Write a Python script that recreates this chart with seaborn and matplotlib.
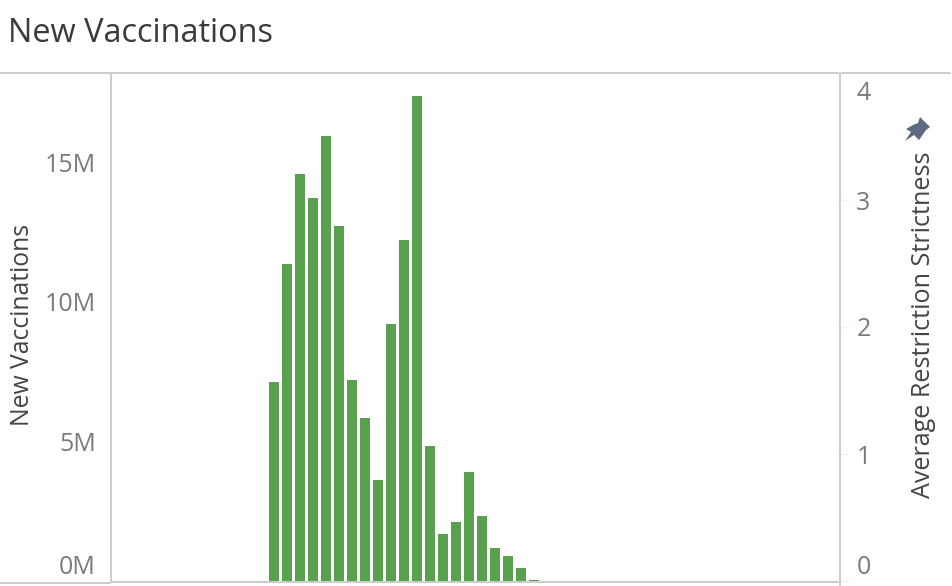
import matplotlib
matplotlib.use('Agg')
import matplotlib.pyplot as plt
import matplotlib.transforms as mtransforms
from matplotlib.lines import Line2D
from matplotlib.patches import Polygon
import seaborn as sns

weeks = [12, 13, 14, 15, 16, 17, 18, 19, 20, 21, 22, 23, 24, 25, 26, 27, 28, 29, 30, 31, 32]
new_vaccinations = [7.12, 11.35, 14.57, 13.71, 15.93, 12.71, 7.20, 5.84, 3.62, 9.20, 12.21,
                    17.36, 4.83, 1.68, 2.11, 3.90, 2.33, 1.18, 0.89, 0.47, 0.04]
left_ticks = [0, 5, 10, 15]
left_labels = ['0M', '5M', '10M', '15M']
right_ticks = [0, 1, 2, 3, 4]

W, H = 952, 586
GREY = '#c8c8c8'
TICK = '#7a7a7a'
DARK = '#444444'

sns.set_theme(style='white')
plt.rcParams['font.family'] = ['Open Sans', 'DejaVu Sans']

fig = plt.figure(figsize=(W / 100, H / 100), dpi=100)
ax = fig.add_axes([111.3 / W, 1 - 581 / H, 727 / W, 508 / H])

sns.barplot(x=weeks, y=new_vaccinations, native_scale=True, color='#59a14f', saturation=1,
            width=0.77, linewidth=0, ax=ax)
ax.set_xlim(-0.5, 55.42)
ax.set_ylim(0, 508 / 27.93)
ax.set_xticks([])
ax.set_yticks(left_ticks)
ax.set_yticklabels(left_labels, fontsize=18, color=TICK)
ax.tick_params(axis='y', length=0, pad=11)
ax.set_xlabel('')
ax.set_ylabel('')

ax2 = ax.twinx()
ax2.set_ylim(0, 4)
ax2.set_yticks(right_ticks)
ax2.set_yticklabels([str(t) for t in right_ticks], fontsize=18, color=TICK)
ax2.tick_params(axis='y', length=8, width=1, color='#f0f0f0', pad=5, direction='out')

for a in (ax, ax2):
    for s in a.spines.values():
        s.set_visible(False)

# 0 and 4 labels get pushed inside the pane like in the original
up = mtransforms.ScaledTranslation(0, 16 / 100, fig.dpi_scale_trans)
down = mtransforms.ScaledTranslation(0, -17 / 100, fig.dpi_scale_trans)
lab = ax.get_yticklabels()[0]
lab.set_transform(lab.get_transform() + up)
lab = ax2.get_yticklabels()[0]
lab.set_transform(lab.get_transform() + up)
lab = ax2.get_yticklabels()[-1]
lab.set_transform(lab.get_transform() + down)


def hline(x0, x1, y, lw=1.3):
    fig.add_artist(Line2D([x0 / W, x1 / W], [1 - y / H, 1 - y / H], color=GREY, lw=lw))


def vline(x, y0, y1, lw=1.3):
    fig.add_artist(Line2D([x / W, x / W], [1 - y0 / H, 1 - y1 / H], color=GREY, lw=lw))


hline(0, 838, 73)
hline(842, 950, 73)
hline(0, 110, 583)
hline(111, 838, 582)
vline(110.5, 73, 582)
vline(840, 73, 586)

fig.text(8 / W, 1 - 33 / H, 'New Vaccinations', fontsize=23.4, color='#3a3a3a', va='center', ha='left',
         fontweight='medium')
fig.text(22.5 / W, 1 - 325 / H, 'New Vaccinations', fontsize=17.8, color=DARK, rotation=90, va='center', ha='center')
fig.text(923 / W, 1 - 325 / H, 'Average Restriction Strictness', fontsize=18.1, color=DARK, rotation=90,
         va='center', ha='center')

pin = [(920, 117), (930, 127), (926, 130), (919, 140), (914, 135), (905, 141), (911, 132), (906, 129),
       (913, 125), (918, 123)]
fig.add_artist(Polygon([(x / W, 1 - y / H) for x, y in pin], closed=True, color='#5b6b82', lw=0,
                       transform=fig.transFigure))

fig.savefig('out.png', dpi=100)
